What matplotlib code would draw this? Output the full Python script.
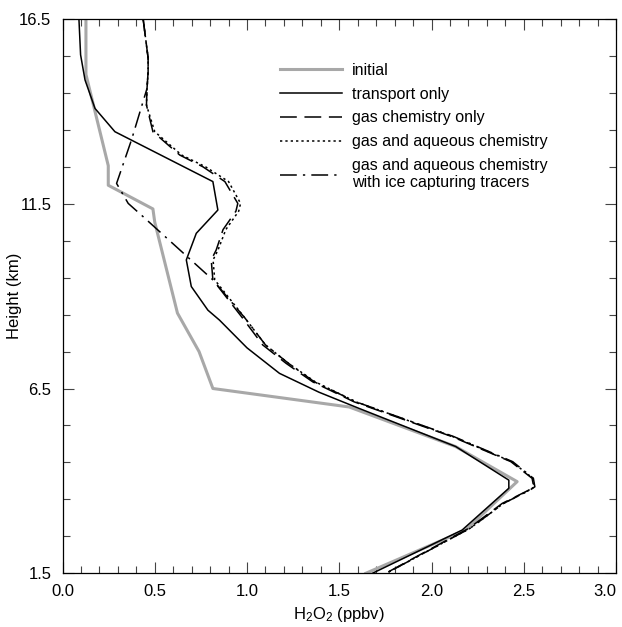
import numpy as np
import matplotlib
matplotlib.use("Agg")
import matplotlib.pyplot as plt
from matplotlib.ticker import FixedLocator, FormatStrFormatter

plt.rcParams['font.family'] = ['Liberation Sans', 'DejaVu Sans']
plt.rcParams['mathtext.fontset'] = 'custom'
plt.rcParams['mathtext.rm'] = 'Liberation Sans'
plt.rcParams['mathtext.it'] = 'Liberation Sans:italic'

# H2O2 profiles (ppbv) against height (km)
initial_x = [0.127, 0.127, 0.248, 0.248, 0.49, 0.50, 0.623, 0.74, 0.815, 1.554, 2.13, 2.464, 2.185, 1.644]
initial_y = [16.5, 15.0, 12.53, 12.0, 11.36, 11.0, 8.54, 7.5, 6.5, 6.0, 4.93, 3.98, 2.67, 1.5]

transport_x = [0.089, 0.098, 0.122, 0.176, 0.284, 0.52, 0.815, 0.842, 0.725, 0.671, 0.698, 0.788,
               0.851, 1.0, 1.176, 1.39, 1.608, 2.131, 2.419, 2.419, 2.166, 1.68]
transport_y = [16.5, 15.53, 14.85, 14.08, 13.45, 12.85, 12.1, 11.33, 10.7, 9.98, 9.26, 8.62,
               8.35, 7.6, 6.91, 6.4, 5.96, 4.93, 4.02, 3.8, 2.67, 1.5]

gas_x = [0.437, 0.464, 0.464, 0.458, 0.455, 0.49, 0.635, 0.761, 0.88, 0.95, 0.94, 0.87, 0.833,
         0.806, 0.815, 0.977, 1.085, 1.212, 1.356, 1.58, 2.11, 2.43, 2.545, 2.554, 2.527, 2.383,
         2.203, 1.752]
gas_y = [16.5, 15.44, 15.07, 14.62, 14.17, 13.45, 12.82, 12.5, 12.1, 11.51, 11.3, 10.8, 10.25,
         9.98, 9.44, 8.4, 7.68, 7.18, 6.68, 6.14, 5.2, 4.52, 4.07, 3.84, 3.75, 3.39, 2.72, 1.5]

aq_x = [0.437, 0.464, 0.464, 0.458, 0.455, 0.5, 0.645, 0.775, 0.9, 0.965, 0.955, 0.885, 0.843,
        0.816, 0.825, 0.99, 1.1, 1.225, 1.37, 1.59, 2.115, 2.435, 2.55, 2.558, 2.53, 2.39,
        2.21, 1.755]
aq_y = gas_y

ice_x = [0.437, 0.464, 0.464, 0.458, 0.374, 0.293, 0.356, 0.437, 0.815, 0.99, 1.1, 1.225,
         1.365, 1.59, 2.12, 2.44, 2.552, 2.56, 2.533, 2.39, 2.21, 1.755]
ice_y = [16.5, 15.44, 15.07, 14.62, 13.23, 12.05, 11.51, 11.15, 9.44, 8.4, 7.68, 7.18,
         6.68, 6.14, 5.2, 4.52, 4.07, 3.84, 3.75, 3.39, 2.72, 1.5]

labels = ['initial', 'transport only', 'gas chemistry only', 'gas and aqueous chemistry',
          'gas and aqueous chemistry\nwith ice capturing tracers']

x_major = [0.0, 0.5, 1.0, 1.5, 2.0, 2.5, 3.0]
y_major = [1.5, 6.5, 11.5, 16.5]

fig = plt.figure(figsize=(6.22, 6.27), dpi=100)
ax = fig.add_axes([0.1005, 0.0857, 0.8899, 0.884])

ax.plot(initial_x, initial_y, color='#a8a8a8', lw=2.2, label=labels[0])
ax.plot(transport_x, transport_y, color='black', lw=1.1, label=labels[1])
ax.plot(gas_x, gas_y, color='black', lw=1.1, dashes=(11, 5), label=labels[2])
ax.plot(aq_x, aq_y, color='black', lw=1.1, dashes=(1.5, 2), label=labels[3])
ax.plot(ice_x, ice_y, color='black', lw=1.1, dashes=(11, 4, 1.5, 4), label=labels[4])

ax.set_xlim(0, 3.0)
ax.set_ylim(1.5, 16.5)
ax.set_xticks(x_major, ['%.1f' % v for v in x_major])
ax.xaxis.set_minor_locator(FixedLocator(np.arange(0, 3.01, 0.1)))
ax.yaxis.set_major_locator(FixedLocator(y_major))
ax.yaxis.set_minor_locator(FixedLocator(np.arange(1.5, 16.6, 1.0)))
ax.yaxis.set_major_formatter(FormatStrFormatter('%.1f'))

ax.tick_params(which='both', direction='in', top=True, right=True, color='#444444',
               labelsize=12, width=0.8)
ax.tick_params(which='major', length=8, pad=8)
ax.tick_params(which='minor', length=5)
for s in ax.spines.values():
    s.set_linewidth(0.9)

ax.set_xlabel('H$_2$O$_2$ (ppbv)', fontsize=12)
ax.set_ylabel('Height (km)', fontsize=12)
ax.xaxis.set_label_coords(0.5, -0.057)
ax.yaxis.set_label_coords(-0.073, 0.5)

ax.legend(loc='upper left', bbox_to_anchor=(0.393, 0.921), frameon=False, fontsize=11.5,
          handlelength=3.9, handletextpad=0.6, labelspacing=0.55, borderpad=0, borderaxespad=0)

fig.canvas.draw()
ax.get_xticklabels()[-1].set_horizontalalignment('right')
ax.get_xticklabels()[-1].set_x(3.0)

fig.savefig('out.png', dpi=100)
